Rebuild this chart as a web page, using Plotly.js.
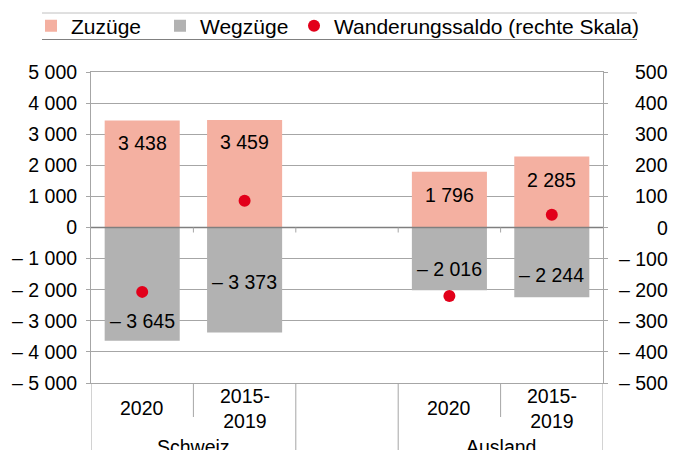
<!DOCTYPE html>
<html>
<head>
<meta charset="utf-8">
<script src="https://cdn.plot.ly/plotly-3.0.1.min.js"></script>
<style>
  html, body { margin: 0; padding: 0; background: #ffffff; }
  #chart { width: 673px; height: 450px; }
</style>
</head>
<body>
<div id="chart"></div>
<script>
// ---- data ----
const categories = ["Schweiz 2020", "Schweiz 2015-2019", "Ausland 2020", "Ausland 2015-2019"];
const axisSlots = ["Schweiz 2020", "Schweiz 2015-2019", "spacer", "Ausland 2020", "Ausland 2015-2019"];
const periodLabels = ["2020", "2015-<br>2019", "2020", "2015-<br>2019"];
const groupLabels = ["Schweiz", "Ausland"];
const groupMembers = [["Schweiz 2020", "Schweiz 2015-2019"], ["Ausland 2020", "Ausland 2015-2019"]];
const zuzuege = [3438, 3459, 1796, 2285];
const wegzuege = [-3645, -3373, -2016, -2244];
const saldo = [-207, 86, -220, 41];
const leftTickVals = [5000, 4000, 3000, 2000, 1000, 0, -1000, -2000, -3000, -4000, -5000];
const leftTickText = ["5 000", "4 000", "3 000", "2 000", "1 000", "0", "– 1 000", "– 2 000", "– 3 000", "– 4 000", "– 5 000"];
const rightTickVals = [500, 400, 300, 200, 100, 0, -100, -200, -300, -400, -500];
const rightTickText = ["500", "400", "300", "200", "100", "0", "– 100", "– 200", "– 300", "– 400", "– 500"];

// ---- styling ----
const FONT = "Liberation Sans, Arial, Helvetica, sans-serif";
const FS = 19.5;
const LFS = 21;
const W = 673, H = 450;
const M = { l: 91, r: 70, t: 72, b: 67 };
const PW = W - M.l - M.r, PH = H - M.t - M.b;
const px2x = (px) => (px - M.l) / PW;
const px2y = (py) => (H - M.b - py) / PH;
const cx = (px) => px / W;
const cy = (py) => 1 - py / H;
const GRID = "#a6a6a6";

function fmt(v) {
  const s = String(Math.abs(v)).replace(/\B(?=(\d{3})+(?!\d))/g, " ");
  return (v < 0 ? "– " : "") + s;
}

// label offsets (px) from the bar end, per bar
const posShift = [-22, -22, -23, -24];
const negShift = [20, 50, 21, 22];

const traces = [
  {
    type: "bar", name: "Zuzüge", x: categories, y: zuzuege, legend: "legend",
    marker: { color: "#f4b0a1" }, hoverinfo: "skip"
  },
  {
    type: "bar", name: "Wegzüge", x: categories, y: wegzuege, legend: "legend2",
    marker: { color: "#b2b2b2" }, hoverinfo: "skip"
  },
  {
    type: "scatter", mode: "markers", name: "Wanderungssaldo (rechte Skala)", legend: "legend3",
    x: categories, y: saldo, yaxis: "y2",
    marker: { color: "#e2001a", size: 12 }, hoverinfo: "skip"
  }
];

const annotations = [];
categories.forEach((c, i) => {
  annotations.push({ x: c, y: zuzuege[i], xref: "x", yref: "y", text: fmt(zuzuege[i]),
    showarrow: false, yshift: posShift[i], yanchor: "middle", font: { family: FONT, size: FS, color: "#000" } });
  annotations.push({ x: c, y: wegzuege[i], xref: "x", yref: "y", text: fmt(wegzuege[i]),
    showarrow: false, yshift: negShift[i], yanchor: "middle", font: { family: FONT, size: FS, color: "#000" } });
  annotations.push({ x: c, y: px2y(408), xref: "x", yref: "paper", text: periodLabels[i],
    showarrow: false, yanchor: "middle", font: { family: FONT, size: FS, color: "#000" } });
});
groupLabels.forEach((g, k) => {
  const idx = groupMembers[k].map(m => axisSlots.indexOf(m));
  annotations.push({ x: (idx[0] + idx[1]) / 2, y: px2y(447), xref: "x", yref: "paper", text: g,
    showarrow: false, yanchor: "middle", font: { family: FONT, size: FS, color: "#000" } });
});
rightTickVals.forEach((v, i) => {
  annotations.push({ x: px2x(670), y: v, xref: "paper", yref: "y2", text: rightTickText[i],
    xanchor: "right", yanchor: "middle", showarrow: false, font: { family: FONT, size: FS, color: "#000" } });
});

const shapes = [];
// legend rules
shapes.push({ type: "line", xref: "paper", yref: "paper", x0: px2x(42), x1: px2x(637), y0: px2y(13), y1: px2y(13), line: { color: "#c0c0c0", width: 1 } });
shapes.push({ type: "line", xref: "paper", yref: "paper", x0: px2x(42), x1: px2x(637), y0: px2y(39.5), y1: px2y(39.5), line: { color: "#808080", width: 1 } });
// category separators below the plot
const longSeps = [-0.5, 1.5, 2.5, 4.5];
const shortSeps = [0.5, 3.5];
longSeps.forEach(s => shapes.push({ type: "line", xref: "x", yref: "paper", x0: s, x1: s, y0: 0, y1: px2y(452), line: { color: GRID, width: 1 } }));
shortSeps.forEach(s => shapes.push({ type: "line", xref: "x", yref: "paper", x0: s, x1: s, y0: 0, y1: px2y(417), line: { color: GRID, width: 1 } }));
// zero line and small ticks on it
shapes.push({ type: "line", xref: "paper", yref: "y", x0: 0, x1: 1, y0: 0, y1: 0, layer: "above", line: { color: "#7f7f7f", width: 1.5 } });
[0.5, 1.5, 2.5, 3.5].forEach(s => shapes.push({ type: "line", xref: "x", yref: "y", ysizemode: "pixel", yanchor: 0,
  x0: s, x1: s, y0: 0, y1: -5, line: { color: GRID, width: 1 } }));

function legendAt(textPx) {
  return {
    orientation: "h", xref: "container", yref: "container",
    x: cx(textPx + 3 - 34), xanchor: "left", y: cy(26), yanchor: "middle",
    indentation: -6,
    font: { family: FONT, size: LFS, color: "#000" },
    bgcolor: "rgba(0,0,0,0)", borderwidth: 0
  };
}

const layout = {
  width: W, height: H,
  margin: M,
  paper_bgcolor: "#ffffff", plot_bgcolor: "#ffffff",
  font: { family: FONT, size: FS, color: "#000" },
  barmode: "relative",
  bargap: 0.267,
  showlegend: true,
  legend: legendAt(68),
  legend2: legendAt(197),
  legend3: legendAt(331),
  xaxis: {
    type: "category", categoryorder: "array", categoryarray: axisSlots,
    range: [-0.5, 4.5], showticklabels: false, ticks: "", showgrid: false, zeroline: false,
    showline: true, mirror: true, linecolor: GRID, linewidth: 1, fixedrange: true
  },
  yaxis: {
    range: [-5000, 5000], tickvals: leftTickVals, ticktext: leftTickText,
    tickfont: { family: FONT, size: FS, color: "#000" },
    showgrid: true, gridcolor: GRID, gridwidth: 1, zeroline: false,
    showline: true, linecolor: GRID, linewidth: 1,
    ticks: "outside", ticklen: 4, tickcolor: GRID, ticklabelstandoff: 5, fixedrange: true
  },
  yaxis2: {
    overlaying: "y", side: "right", range: [-500, 500], tickvals: rightTickVals,
    showticklabels: false, showgrid: false, zeroline: false,
    showline: true, linecolor: GRID, linewidth: 1,
    ticks: "outside", ticklen: 4, tickcolor: GRID, fixedrange: true
  },
  annotations: annotations,
  shapes: shapes
};

Plotly.newPlot("chart", traces, layout, { staticPlot: true, displayModeBar: false });
</script>
</body>
</html>
